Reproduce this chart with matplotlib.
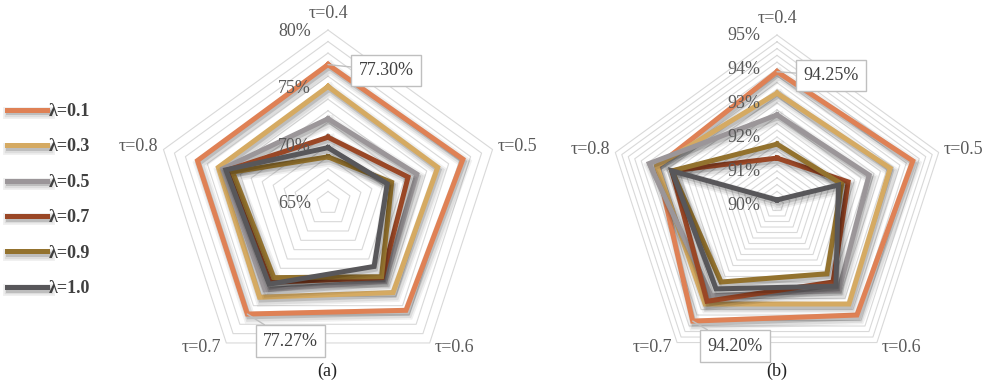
import numpy as np
import matplotlib.pyplot as plt
import matplotlib.patheffects as pe

plt.rcParams['font.family'] = ['Liberation Serif', 'DejaVu Serif']

# donnees (ordre des axes : tau=0.4 .. 0.8)
TAU_LABELS = ["τ=0.4", "τ=0.5", "τ=0.6", "τ=0.7", "τ=0.8"]
LAMBDA_LABELS = ["λ=0.1", "λ=0.3", "λ=0.5", "λ=0.7", "λ=0.9", "λ=1.0"]

acc_a_l01 = [77.0, 77.3, 76.5, 76.9, 76.9]
acc_a_l03 = [75.1, 75.0, 74.6, 75.1, 75.0]
acc_a_l05 = [72.3, 73.1, 73.4, 74.3, 74.6]
acc_a_l07 = [70.7, 72.3, 73.0, 73.5, 74.2]
acc_a_l09 = [69.0, 70.8, 72.9, 73.0, 73.7]
acc_a_l10 = [69.8, 70.4, 71.8, 73.7, 74.3]

acc_b_l01 = [93.92, 94.2, 94.0, 94.22, 93.7]
acc_b_l03 = [93.29, 93.5, 93.6, 93.6, 93.72]
acc_b_l05 = [92.65, 92.85, 93.1, 93.3, 93.95]
acc_b_l07 = [91.38, 92.2, 92.8, 93.5, 93.25]
acc_b_l09 = [91.79, 92.0, 92.5, 92.8, 93.25]
acc_b_l10 = [90.15, 91.9, 92.95, 93.05, 93.25]

ticks_a = [65, 70, 75, 80]
ticks_b = [90, 91, 92, 93, 94, 95]

# etiquettes encadrees : (indice serie, indice axe, texte)
callouts_a = [(0, 0, "77.30%"), (0, 3, "77.27%")]
callouts_b = [(0, 0, "94.25%"), (0, 3, "94.20%")]

COLORS = ["#DF8155", "#D5AA62", "#9B9699", "#9A4726", "#93722E", "#58575A"]
GRID = "#D9D9D9"
TXT = "#595959"
LW = 3.6
FS = 13


def shadow(lw):
    return [pe.Stroke(offset=(1.5, -2.5), linewidth=lw + 5, foreground="k", alpha=0.06),
            pe.Stroke(offset=(1.5, -2.5), linewidth=lw + 2.5, foreground="k", alpha=0.08),
            pe.Stroke(offset=(1.0, -2.0), linewidth=lw, foreground="k", alpha=0.14),
            pe.Normal()]


def radar(ax, series, vmin, vmax, step, ticks, callouts, offs_callout):
    n = len(TAU_LABELS)
    ang = np.linspace(0, 2 * np.pi, n, endpoint=False)
    ang_c = np.append(ang, ang[0])

    ax.set_theta_zero_location("N")
    ax.set_theta_direction(-1)
    ax.set_ylim(vmin, vmax)
    ax.axis("off")

    # grille en pentagones
    for lev in np.arange(vmin + step, vmax + step / 2, step):
        ax.plot(ang_c, [lev] * (n + 1), color=GRID, lw=0.8, clip_on=False, zorder=1)

    lines = []
    for vals, c, lab in zip(series, COLORS, LAMBDA_LABELS):
        v = np.append(vals, vals[0])
        ln, = ax.plot(ang_c, v, color=c, lw=LW, label=lab, clip_on=False,
                      solid_joinstyle="miter", zorder=3, path_effects=shadow(LW))
        lines.append(ln)

    for t in ticks:
        ax.annotate("%d%%" % t, xy=(0, t), xytext=(-17, -1), textcoords="offset pixels",
                    ha="right", va="center", fontsize=FS, color=TXT, zorder=4)

    # etiquettes des axes tau
    offs = [(0, 8, "center", "bottom"), (5, 3, "left", "center"),
            (5, -5, "left", "center"), (-5, -5, "right", "center"),
            (-5, 3, "right", "center")]
    for a, lab, (dx, dy, ha, va) in zip(ang, TAU_LABELS, offs):
        ax.annotate(lab, xy=(a, vmax), xytext=(dx, dy), textcoords="offset pixels",
                    ha=ha, va=va, fontsize=FS, color=TXT)

    for (i, j, txt), (dx, dy) in zip(callouts, offs_callout):
        ax.annotate(txt, xy=(ang[j], series[i][j]), xytext=(dx, dy),
                    textcoords="offset pixels", ha="center", va="center",
                    fontsize=FS, color="#404040", zorder=6,
                    bbox=dict(boxstyle="square,pad=0.4", fc="white", ec="#BFBFBF", lw=1),
                    arrowprops=dict(arrowstyle="-", color="#BFBFBF", lw=1,
                                    shrinkA=0, shrinkB=0))
    return lines


fig = plt.figure(figsize=(9.84, 3.85), dpi=100)

# panneau (a) : centre (328, 203) px, rayon 173 px
ax_a = fig.add_axes([155 / 984, 9 / 385, 346 / 984, 346 / 385], projection="polar")
series_a = [acc_a_l01, acc_a_l03, acc_a_l05, acc_a_l07, acc_a_l09, acc_a_l10]
lines = radar(ax_a, series_a, 65, 80, 1, ticks_a, callouts_a, [(58, -6), (43, -27)])

# panneau (b) : centre (777, 205) px, rayon 170 px
ax_b = fig.add_axes([607 / 984, 10 / 385, 340 / 984, 340 / 385], projection="polar")
series_b = [acc_b_l01, acc_b_l03, acc_b_l05, acc_b_l07, acc_b_l09, acc_b_l10]
radar(ax_b, series_b, 90, 95, 0.2, ticks_b, callouts_b, [(54, -4), (42, -25)])

fig.text(327 / 984, 1 - 371 / 385, "(a)", ha="center", va="center", fontsize=FS, color="#222222")
fig.text(777 / 984, 1 - 371 / 385, "(b)", ha="center", va="center", fontsize=FS, color="#222222")

fig.legend(handles=lines, loc="upper left", bbox_to_anchor=(7 / 984, 1 - 103 / 385),
           frameon=False, handlelength=2.2, handletextpad=0.1,
           labelspacing=1.02, borderpad=0, borderaxespad=0,
           prop={"weight": "bold", "size": FS}, labelcolor="#404040")

plt.savefig("out.png", dpi=100)
